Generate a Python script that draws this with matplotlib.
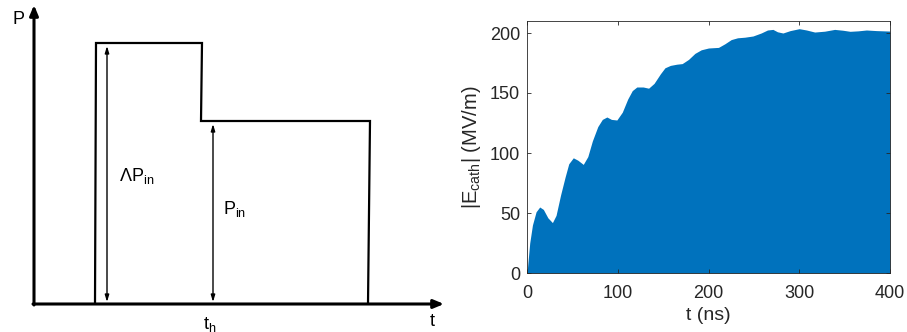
import numpy as np
import matplotlib.pyplot as plt

plt.rcParams['font.family'] = ['Liberation Sans', 'DejaVu Sans']
plt.rcParams['mathtext.fontset'] = 'custom'
plt.rcParams['mathtext.rm'] = 'Liberation Sans'
plt.rcParams['mathtext.it'] = 'Liberation Sans'

# schematic pulse (arbitrary units)
puls_t = [61, 62, 168, 167, 336, 334]
puls_p = [0, 261, 261, 183, 183, 0]
t_h = 179

# envelope of |E_cath| (MV/m) vs t (ns)
czas = [0, 3, 6, 10, 14, 18, 23, 28, 32, 37, 42, 46, 51, 56, 62, 67, 72, 78,
        83, 88, 93, 99, 105, 111, 116, 121, 128, 134, 140, 147, 152, 158,
        165, 171, 178, 185, 192, 200, 211, 218, 225, 232, 240, 249, 258,
        265, 271, 276, 282, 290, 300, 308, 317, 328, 339, 348, 356, 365,
        374, 385, 400]
pole = [0, 25, 40, 51, 55, 53, 46, 42, 48, 65, 80, 91, 96, 94, 90.5, 97, 110,
        122, 128, 130, 128, 127.5, 134, 145, 152, 155, 155, 154, 158, 166,
        171, 173, 174, 174.5, 178, 183, 186, 187.5, 188, 191, 194.5, 196,
        196.5, 197.5, 200, 202.5, 203, 201, 200, 202, 203.6, 202.5, 200.8,
        201.5, 203, 202.3, 201.4, 201.8, 202.5, 202, 201.6]

W, H = 907, 332
fig = plt.figure(figsize=(W / 100, H / 100), dpi=100)

# --- left: pulse schematic ---
ax1 = fig.add_axes([34 / W, 28 / H, 410 / W, 299 / H])
ax1.set_xlim(0, 410)
ax1.set_ylim(0, 299)
ax1.axis('off')

strzalka = dict(arrowstyle='-|>,head_length=0.6,head_width=0.25', color='black',
                lw=2.2, shrinkA=0, shrinkB=0)
ax1.annotate('', xy=(410, 0), xytext=(-1, 0), arrowprops=strzalka, annotation_clip=False)
ax1.annotate('', xy=(0, 299), xytext=(0, -1), arrowprops=strzalka, annotation_clip=False)

ax1.plot(puls_t, puls_p, color='black', lw=1.6, solid_joinstyle='miter')

dwustr = dict(arrowstyle='<|-|>,head_length=0.4,head_width=0.12', color='black',
              lw=1.0, shrinkA=0, shrinkB=0)
ax1.annotate('', xy=(73, 258), xytext=(73, 2), arrowprops=dwustr)
ax1.annotate('', xy=(t_h, 180), xytext=(t_h, 2), arrowprops=dwustr)

fs = 13
ax1.text(-22, 284, 'P', fontsize=fs, ha='left', va='center', clip_on=False)
ax1.text(396, -18, 't', fontsize=fs, ha='left', va='center', clip_on=False)
ax1.text(t_h - 3, -20, r'$\mathregular{t_h}$', fontsize=fs, ha='center', va='center', clip_on=False)
ax1.text(85, 128, r'$\mathregular{\Lambda P_{in}}$', fontsize=fs, ha='left', va='center')
ax1.text(189, 95, r'$\mathregular{P_{in}}$', fontsize=fs, ha='left', va='center')

# --- right: cathode field ---
ax2 = fig.add_axes([527 / W, 59 / H, 363 / W, 252 / H])
ax2.fill_between(czas, 0, pole, color='#0072BD', lw=0)
ax2.set_xlim(0, 400)
ax2.set_ylim(0, 210)
ax2.set_xticks([0, 100, 200, 300, 400])
ax2.set_yticks([0, 50, 100, 150, 200])
ax2.tick_params(direction='in', top=True, right=True, length=3, width=0.6,
                labelsize=13, colors='#262626', pad=5)
ax2.tick_params(axis='x', pad=9)
for s in ax2.spines.values():
    s.set_color('#262626')
    s.set_linewidth(0.6)
ax2.set_xlabel('t (ns)', fontsize=14, color='#262626', labelpad=3)
ax2.set_ylabel(r'$\mathregular{|E_{cath}|}$ (MV/m)', fontsize=14.5, color='#262626', labelpad=5)

fig.savefig('out.png', dpi=100)
